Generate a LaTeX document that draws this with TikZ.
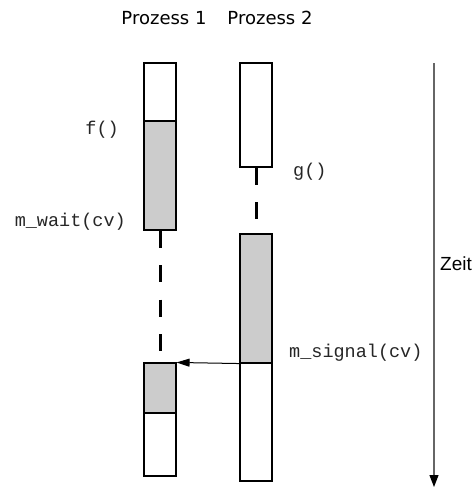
\documentclass[tikz,border=0pt]{standalone}
\usepackage{fontspec}
\usetikzlibrary{arrows.meta}
\newfontfamily\titlefont{DejaVu Sans}
\newfontfamily\zeitfont{Liberation Sans}
\newfontfamily\codefont{Liberation Mono}
\definecolor{barfill}{HTML}{CCCCCC}
\definecolor{axisgray}{HTML}{666666}
\tikzset{
  bar/.style={draw=black, line width=1.1pt, inner sep=0pt, minimum width=32pt},
  whitebar/.style={bar, fill=white},
  graybar/.style={bar, fill=barfill},
  waitline/.style={line width=3pt, dash pattern=on 17pt off 17.5pt},
  code/.style={font=\codefont\fontsize{18.5}{20}\selectfont, inner sep=0pt, text=black!85},
  title/.style={font=\titlefont\fontsize{18}{20}\selectfont, inner sep=0pt},
}
\begin{document}
\begin{tikzpicture}[x=1pt,y=-1pt]
\useasboundingbox (0,0) rectangle (475,488);
% titles
\node[title] (t1) at (164,18) {Prozess 1};
\node[title] (t2) at (270,18) {Prozess 2};
% process 1
\node[whitebar, minimum height=58pt] (p1w) at (160,92) {};
\node[graybar, minimum height=109pt] (p1g) at (160,175.5) {};
\node[graybar, minimum height=50pt] (p1lg) at (160,388) {};
\node[whitebar, minimum height=63pt] (p1lw) at (160,444.5) {};
% process 2
\node[whitebar, minimum height=104pt] (p2w) at (256,115) {};
\node[graybar, minimum height=129pt] (p2g) at (256,298.5) {};
\node[whitebar, minimum height=118pt] (p2lw) at (256,422) {};
% waiting lines
\draw[waitline] (p1g.south) -- (p1lg.north);
\draw[waitline] (p2w.south) -- (p2g.north);
% signal arrow
\draw[line width=1pt, -{Triangle[length=13pt,width=8pt]}] (p2g.south west) -- (p1lg.north east);
% labels
\node[code, anchor=east] (lf) at (119,130) {f()};
\node[code, anchor=west] (lg) at (293,172) {g()};
\node[code, anchor=east] (lw) at (126,222) {m\_wait(cv)};
\node[code, anchor=west] (ls) at (289,353) {m\_signal(cv)};
% time axis
\coordinate (ztop) at (434,63);
\coordinate (zbot) at (434,487);
\draw[axisgray, line width=1.2pt, -{Triangle[length=12pt,width=9pt,color=black]}] (ztop) -- (zbot);
\node[font=\zeitfont\fontsize{19}{21}\selectfont, anchor=west, inner sep=0pt] (zeit) at (440,264) {Zeit};
\end{tikzpicture}
\end{document}
